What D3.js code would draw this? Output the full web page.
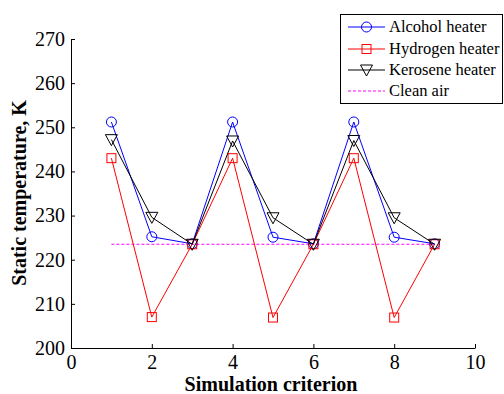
<!DOCTYPE html>
<html><head><meta charset="utf-8">
<script src="https://cdn.jsdelivr.net/npm/d3@7"></script>
<style>body{margin:0;background:#fff}svg{display:block}</style>
</head><body>
<script>
const xs = [1,2,3,4,5,6,7,8,9];
const alcohol = [251.2,225.2,223.6,251.2,225.1,223.6,251.2,225.1,223.6];
const hydrogen = [243,207,223.5,243,206.9,223.5,243,206.9,223.5];
const kerosene = [247.2,229.6,223.5,246.9,229.5,223.5,247,229.5,223.5];
const cleanAir = 223.5;
const xTicks = [0,2,4,6,8,10];
const yTicks = [200,210,220,230,240,250,260,270];

const W=504,H=394;
const svg=d3.select("body").append("svg").attr("width",W).attr("height",H);
const x=d3.scaleLinear().domain([0,10]).range([71,475]);
const y=d3.scaleLinear().domain([200,270]).range([348,39]);
const font="'Liberation Serif', 'Times New Roman', serif";

// axes
const gx=svg.append("g").attr("transform","translate(0,348)")
  .call(d3.axisBottom(x).tickValues(xTicks).tickSizeInner(-4).tickSizeOuter(0).tickPadding(7));
const gy=svg.append("g").attr("transform","translate(71,0)")
  .call(d3.axisLeft(y).tickValues(yTicks).tickSizeInner(-4).tickSizeOuter(0).tickPadding(6));
[gx,gy].forEach(g=>{
  g.attr("font-family",font);
  g.select(".domain").attr("stroke","#000").attr("stroke-width",1);
  g.selectAll(".tick line").attr("stroke","#000");
  g.selectAll("text").attr("font-family",font).attr("font-size",20).attr("fill","#000");
});
gx.selectAll("text").attr("dy","0.71em");

svg.append("text").attr("x",271).attr("y",391).attr("text-anchor","middle")
  .attr("font-family",font).attr("font-weight","bold").attr("font-size",20).text("Simulation criterion");
svg.append("text").attr("transform","translate(26,193) rotate(-90)").attr("text-anchor","middle")
  .attr("font-family",font).attr("font-weight","bold").attr("font-size",20).text("Static temperature, K");

// clean air
svg.append("line").attr("x1",x(1)).attr("x2",x(9)).attr("y1",y(cleanAir)).attr("y2",y(cleanAir))
  .attr("stroke","#ff00ff").attr("stroke-dasharray","3,2").attr("stroke-width",1);

const line=d3.line().x((d,i)=>x(xs[i])).y(d=>y(d));
function marker(g,type,color,cx,cy){
  if(type==="circle") g.append("circle").attr("cx",cx).attr("cy",cy).attr("r",5).attr("fill","none").attr("stroke",color);
  else if(type==="square") g.append("rect").attr("x",cx-4.5).attr("y",cy-4.5).attr("width",9).attr("height",9).attr("fill","none").attr("stroke",color);
  else g.append("path").attr("d",`M${cx-6},${cy-5}L${cx+6},${cy-5}L${cx},${cy+6}Z`).attr("fill","none").attr("stroke",color);
}
const series=[
  {name:"Alcohol heater",vals:alcohol,color:"#0000ff",m:"circle"},
  {name:"Hydrogen heater",vals:hydrogen,color:"#ff0000",m:"square"},
  {name:"Kerosene heater",vals:kerosene,color:"#000000",m:"tri"}
];
series.forEach(s=>{
  svg.append("path").attr("d",line(s.vals)).attr("fill","none").attr("stroke",s.color).attr("stroke-width",1);
  const g=svg.append("g");
  s.vals.forEach((v,i)=>marker(g,s.m,s.color,x(xs[i]),y(v)));
});

// legend
const lg=svg.append("g");
lg.append("rect").attr("x",340.5).attr("y",14.5).attr("width",162).attr("height",89).attr("fill","#fff").attr("stroke","#000").attr("stroke-width",1);
const rows=[27,49,70,91];
series.forEach((s,i)=>{
  lg.append("line").attr("x1",348).attr("x2",385).attr("y1",rows[i]).attr("y2",rows[i]).attr("stroke",s.color);
  marker(lg,s.m,s.color,366.5,rows[i]);
  lg.append("text").attr("x",389).attr("y",rows[i]+5).attr("font-family",font).attr("font-size",16.5).text(s.name);
});
lg.append("line").attr("x1",348).attr("x2",385).attr("y1",rows[3]).attr("y2",rows[3]).attr("stroke","#ff00ff").attr("stroke-dasharray","3,2");
lg.append("text").attr("x",389).attr("y",rows[3]+5).attr("font-family",font).attr("font-size",16.5).text("Clean air");
</script>
</body></html>
